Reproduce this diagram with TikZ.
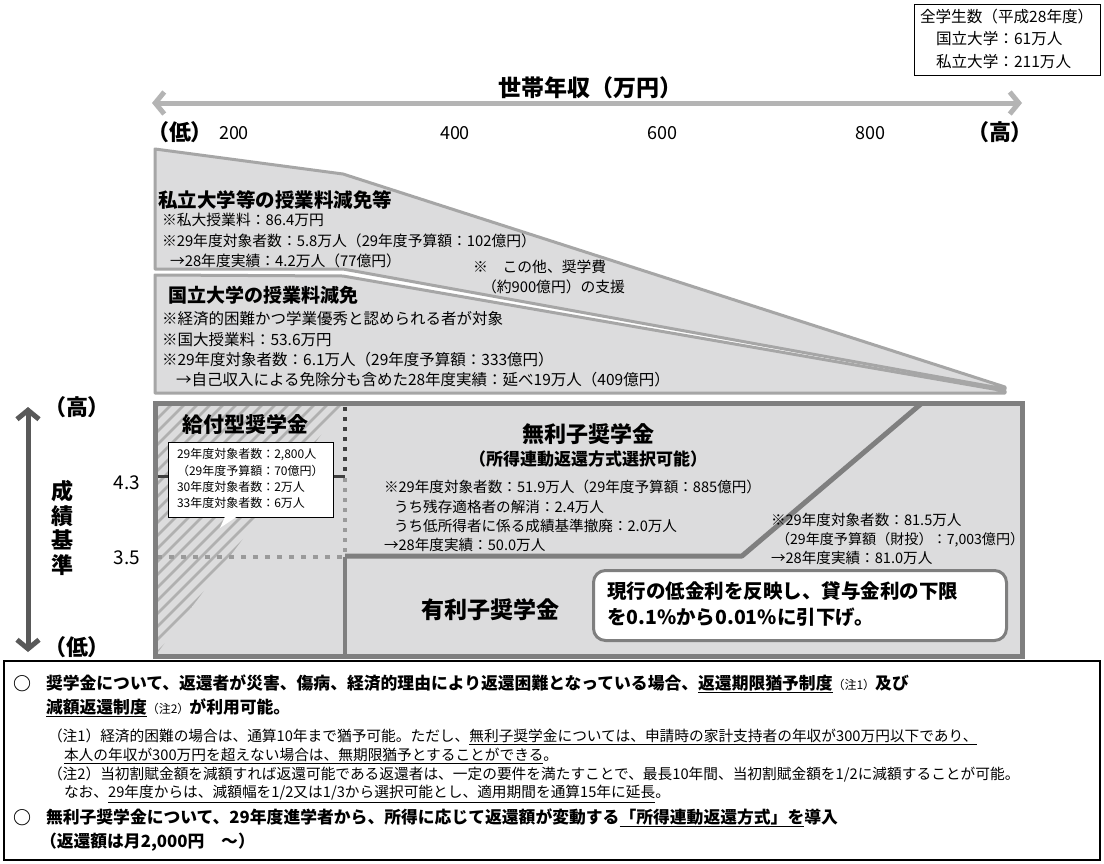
\documentclass[tikz,border=0pt]{standalone}
\usepackage{fontspec}
\setmainfont{Noto Sans CJK JP}
\newfontfamily\pfont{Noto Sans CJK JP}[RawFeature=+palt]
\usetikzlibrary{arrows.meta}
\newcommand\fsz[1]{\fontsize{#1pt}{#1pt}\selectfont}
\definecolor{polyfill}{HTML}{DCDCDD}
\definecolor{polyedge}{HTML}{A6A6A6}
\definecolor{boxedge}{HTML}{7F7F7F}
\definecolor{axisgrey}{HTML}{B4B4B4}
\definecolor{darkaxis}{HTML}{595959}
\definecolor{hatchc}{HTML}{B0B0B0}
\definecolor{dotdark}{HTML}{404040}
\definecolor{dotlight}{HTML}{9A9A9A}
\tikzset{
  txt/.style={anchor=west, inner sep=0pt, outer sep=0pt},
  ctxt/.style={inner sep=0pt, outer sep=0pt},
  barbs/.style={{Straight Barb[length=9pt,width=22pt]}-{Straight Barb[length=9pt,width=22pt]}},
}
\begin{document}
\begin{tikzpicture}[x=1pt,y=-1pt]
\useasboundingbox (0,0) rectangle (1104,863);
\fill[white] (0,0) rectangle (1104,863);

% top-right box
\node[draw=black, line width=1pt, minimum width=186pt, minimum height=71pt, anchor=north west, inner sep=0pt] (totalbox) at (914,4) {};
\node[txt] (tot1) at (920,17) {\fsz{15.6}全学生数（平成28年度）};
\node[txt] (tot2) at (936,39) {\fsz{15.6}国立大学：61万人};
\node[txt] (tot3) at (936,62) {\fsz{15.6}私立大学：211万人};

% income axis
\node[ctxt] (title) at (590,88) {\fsz{23}\bfseries 世帯年収（万円）};
\coordinate (axL) at (152,103);
\coordinate (axR) at (1022,103);
\draw[axisgrey, line width=5pt, barbs] (axL) -- (axR);
\node[ctxt] (inclow) at (180,132) {\fsz{22}\pfont\bfseries （低）};
\node[ctxt] (i200) at (234,133) {\fsz{18}200};
\node[ctxt] (i400) at (455,133) {\fsz{18}400};
\node[ctxt] (i600) at (662,133) {\fsz{18}600};
\node[ctxt] (i800) at (870,133) {\fsz{18}800};
\node[ctxt] (inchigh) at (1000,132) {\fsz{22}\pfont\bfseries （高）};

% private university polygon
\filldraw[fill=polyfill, draw=polyedge, line width=3pt, line join=round]
  (155,149) -- (343,174) -- (1005,387) -- (1005,389) -- (343,269) -- (155,269) -- cycle;
% national university polygon
\filldraw[fill=polyfill, draw=polyedge, line width=3pt, line join=round]
  (155,275) -- (343,276) -- (1005,391) -- (1005,393) -- (155,393) -- cycle;

\node[txt] (privh) at (158,200) {\fsz{19.5}\bfseries 私立大学等の授業料減免等};
\node[txt] (priv1) at (162,220) {\fsz{14.8}※私大授業料：86.4万円};
\node[txt] (priv2) at (162,241) {\fsz{14.8}※29年度対象者数：5.8万人（29年度予算額：102億円）};
\node[txt] (priv3) at (170,261) {\fsz{14.8}→28年度実績：4.2万人（77億円）};
\node[txt] (other1) at (473,267) {\fsz{14.8}※　この他、奨学費};
\node[txt] (other2) at (482,287) {\fsz{14.8}（約900億円）の支援};

\node[txt] (nath) at (168,295) {\fsz{19}\bfseries 国立大学の授業料減免};
\node[txt] (nat1) at (162,319) {\fsz{15.5}※経済的困難かつ学業優秀と認められる者が対象};
\node[txt] (nat2) at (162,340) {\fsz{15.5}※国大授業料：53.6万円};
\node[txt] (nat3) at (162,360) {\fsz{15.5}※29年度対象者数：6.1万人（29年度予算額：333億円）};
\node[txt] (nat4) at (176,380) {\fsz{15.5}→自己収入による免除分も含めた28年度実績：延べ19万人（409億円）};

% main box
\fill[polyfill] (155,403) rectangle (1022,656);
\begin{scope}
  \clip (155,403) -- (345,403) -- (155,656) -- cycle;
  \foreach \k in {0,...,36} \draw[hatchc, line width=2.6pt] (-110+13*\k,660) -- ++(280,-280);
\end{scope}
\draw[dotdark, line width=3pt] (155,476) -- (345,476);
\draw[dotdark, line width=4pt, dash pattern=on 4pt off 6pt] (345,407) -- (345,476);
\draw[dotlight, line width=4pt, dash pattern=on 4pt off 6pt] (345,478) -- (345,556);
\draw[dotlight, line width=4pt, dash pattern=on 5pt off 7pt] (157,557) -- (345,557);
\draw[boxedge, line width=4pt] (345,557) -- (345,656);
\draw[boxedge, line width=5pt, line join=round] (345,556) -- (742,556) -- (922,403);
\draw[boxedge, line width=5pt] (155,403) rectangle (1022,656);

% grant scholarship
\node[ctxt] (kyufu) at (245,424) {\fsz{21}\bfseries 給付型奨学金};
\node[draw=black, line width=0.8pt, fill=white, minimum width=165pt, minimum height=75pt, anchor=north west, inner sep=0pt] (kyufubox) at (168,442) {};
\fill[white] (225,516.5) -- (237,516.5) -- (220,528) -- cycle;
\node[txt] (ky1) at (177,455) {\fsz{12}29年度対象者数：2,800人};
\node[txt] (ky2) at (177,471) {\fsz{12}（29年度予算額：70億円）};
\node[txt] (ky3) at (177,487) {\fsz{12}30年度対象者数：2万人};
\node[txt] (ky4) at (177,503) {\fsz{12}33年度対象者数：6万人};

% interest-free
\node[ctxt] (murishi) at (588,434) {\fsz{22}\bfseries 無利子奨学金};
\node[ctxt] (murishi2) at (588,459) {\fsz{17}\bfseries （所得連動返還方式選択可能）};
\node[txt] (mu1) at (384,487) {\fsz{14.6}※29年度対象者数：51.9万人（29年度予算額：885億円）};
\node[txt] (mu2) at (394,507) {\fsz{14.6}うち残存適格者の解消：2.4万人};
\node[txt] (mu3) at (394,526) {\fsz{14.6}うち低所得者に係る成績基準撤廃：2.0万人};
\node[txt] (mu4) at (384,545) {\fsz{14.6}→28年度実績：50.0万人};

% interest-bearing
\node[txt] (yu1) at (771,520) {\fsz{14.6}※29年度対象者数：81.5万人};
\node[txt] (yu2) at (776,540) {\fsz{14.1}（29年度予算額（財投）：7,003億円）};
\node[txt] (yu3) at (771,558) {\fsz{14.6}→28年度実績：81.0万人};
\node[ctxt] (yurishi) at (490,610) {\fsz{23}\bfseries 有利子奨学金};
\node[draw=boxedge, line width=3pt, fill=white, rounded corners=12pt, minimum width=413pt, minimum height=70pt, anchor=north west, inner sep=0pt] (ratebox) at (592,569) {};
\node[txt] (rate1) at (607,591) {\fsz{19.5}\bfseries 現行の低金利を反映し、貸与金利の下限};
\node[txt] (rate2) at (607,617) {\fsz{19.5}\bfseries を0.1\%から0.01\%に引下げ。};

% grade axis
\coordinate (gtop) at (28,407);
\coordinate (gbot) at (28,652);
\draw[darkaxis, line width=5pt, barbs] (gtop) -- (gbot);
\node[ctxt] (ghigh) at (77,407) {\fsz{22}\pfont\bfseries （高）};
\node[ctxt] (glow) at (77,647) {\fsz{22}\pfont\bfseries （低）};
\node[ctxt] (g1) at (62,491) {\fsz{22}\bfseries 成};
\node[ctxt] (g2) at (62,516) {\fsz{22}\bfseries 績};
\node[ctxt] (g3) at (62,540) {\fsz{22}\bfseries 基};
\node[ctxt] (g4) at (62,565) {\fsz{22}\bfseries 準};
\node[ctxt] (g43) at (127,483) {\fsz{19}4.3};
\node[ctxt] (g35) at (127,558) {\fsz{19}3.5};

% bottom notes
\draw[black, line width=2pt] (4,661) rectangle (1100,860);
\node[ctxt] (c1) at (22,684) {\fsz{18}\bfseries ○};
\node[txt] (b1) at (46,684) {\fsz{16.8}\bfseries 奨学金について、返還者が災害、傷病、経済的理由により返還困難となっている場合、\underline{返還期限猶予制度}{\mdseries\fsz{12}（注1）}及び};
\node[txt] (b2) at (46,708) {\fsz{16.8}\bfseries \underline{減額返還制度}{\mdseries\fsz{12}（注2）}が利用可能。};
\node[txt] (n1) at (48,737) {\fsz{14.7}（注1）経済的困難の場合は、通算10年まで猶予可能。ただし、\underline{無利子奨学金については、申請時の家計支持者の年収が300万円以下であり、}};
\node[txt] (n2) at (64,756) {\fsz{14.7}\underline{本人の年収が300万円を超えない場合は、無期限猶予とすることができる}。};
\node[txt] (n3) at (48,775) {\fsz{14.7}（注2）当初割賦金額を減額すれば返還可能である返還者は、一定の要件を満たすことで、最長10年間、当初割賦金額を1/2に減額することが可能。};
\node[txt] (n4) at (64,794) {\fsz{14.7}なお、\underline{29年度からは、減額幅を1/2又は1/3から選択可能とし、適用期間を通算15年に延長}。};
\node[ctxt] (c2) at (22,818) {\fsz{18}\bfseries ○};
\node[txt] (b3) at (46,818) {\fsz{16.8}\bfseries 無利子奨学金について、29年度進学者から、所得に応じて返還額が変動する\underline{「所得連動返還方式」を}導入};
\node[txt] (b4) at (40,842) {\fsz{16.8}\bfseries （返還額は月2,000円　～）};
\end{tikzpicture}
\end{document}
